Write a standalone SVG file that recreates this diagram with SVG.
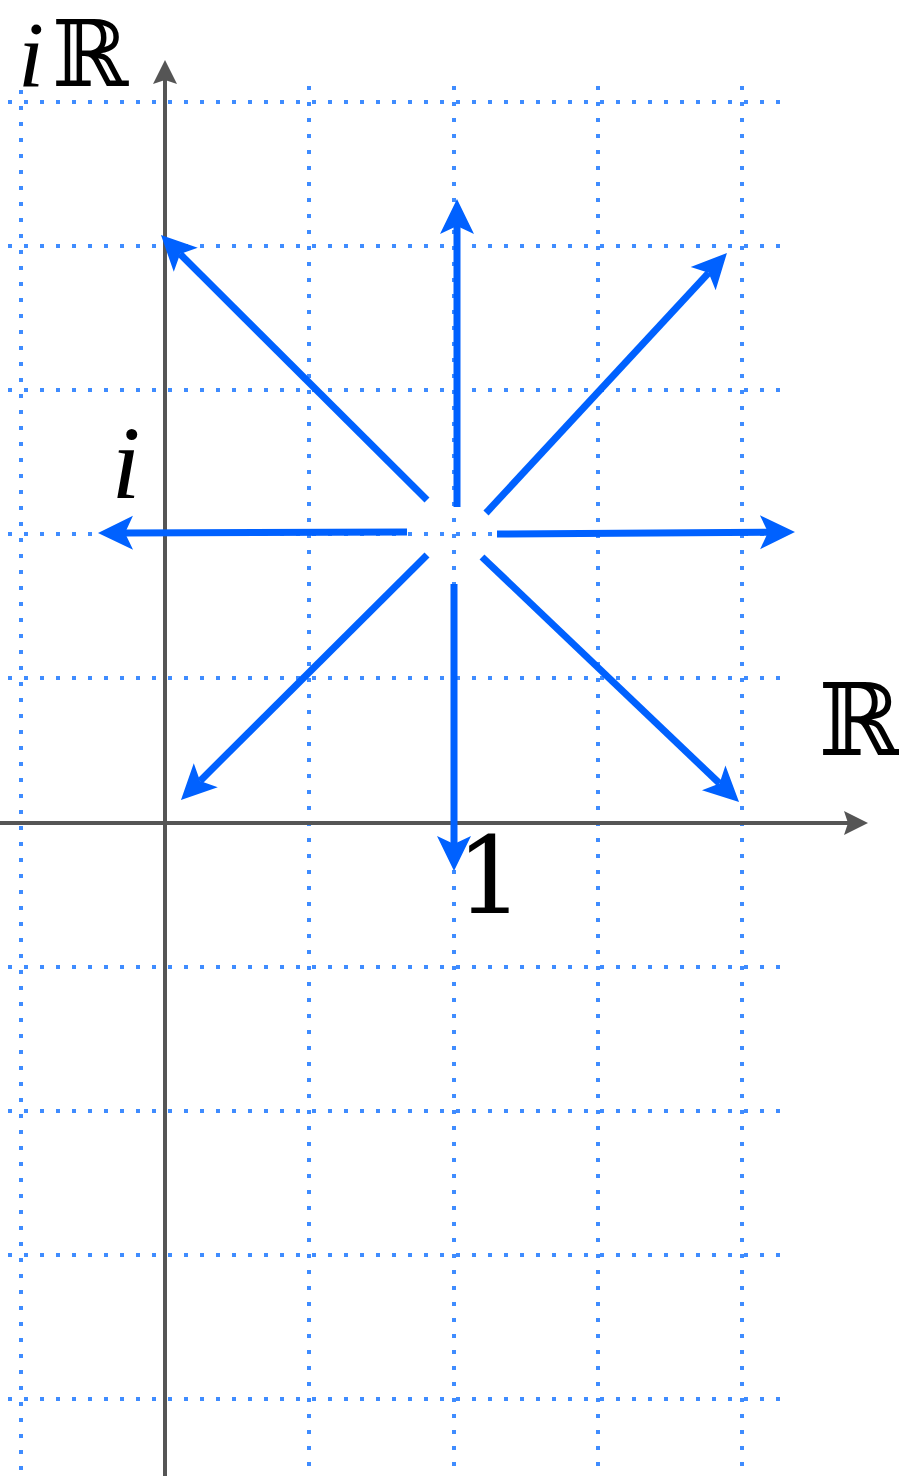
<svg xmlns="http://www.w3.org/2000/svg" width="899" height="1476" viewBox="0 0 899 1476">
<style>
.grid{stroke:#3f8cff;stroke-width:4;stroke-dasharray:4 12;fill:none}
.axis{stroke:#555555;stroke-width:4;fill:none}
.vec{stroke:#0061ff;stroke-width:7;fill:none}
.lbl{font-family:"DejaVu Serif","Liberation Serif",serif;fill:#000}
.it{font-family:"Liberation Serif","DejaVu Serif",serif;font-style:italic;fill:#000}
</style>
<defs>
<marker id="ah" markerUnits="userSpaceOnUse" markerWidth="80" markerHeight="80" refX="0" refY="0" orient="auto" overflow="visible" viewBox="-40 -40 80 80">
<path d="M27,0 L-8,-17 L0,0 L-8,17 Z" fill="#0061ff"/>
</marker>
<marker id="ax" markerUnits="userSpaceOnUse" markerWidth="60" markerHeight="60" refX="0" refY="0" orient="auto" overflow="visible" viewBox="-30 -30 60 60">
<path d="M20,0 L-4,-12 L0,0 L-4,12 Z" fill="#555555"/>
</marker>
</defs>
<g id="grid">
<line class="grid" x1="21" y1="90" x2="21" y2="1472"/>
<line class="grid" x1="309" y1="86" x2="309" y2="1472"/>
<line class="grid" x1="454" y1="86" x2="454" y2="1472"/>
<line class="grid" x1="598" y1="86" x2="598" y2="1472"/>
<line class="grid" x1="742" y1="86" x2="742" y2="1472"/>
<line class="grid" x1="8" y1="102" x2="782" y2="102"/>
<line class="grid" x1="8" y1="246" x2="782" y2="246"/>
<line class="grid" x1="8" y1="390" x2="782" y2="390"/>
<line class="grid" x1="8" y1="534" x2="782" y2="534"/>
<line class="grid" x1="8" y1="678" x2="782" y2="678"/>
<line class="grid" x1="8" y1="967" x2="782" y2="967"/>
<line class="grid" x1="8" y1="1111" x2="782" y2="1111"/>
<line class="grid" x1="8" y1="1255" x2="782" y2="1255"/>
<line class="grid" x1="8" y1="1399" x2="782" y2="1399"/>
</g>
<g id="axes">
<line class="axis" x1="0" y1="823" x2="848" y2="823" marker-end="url(#ax)"/>
<line class="axis" x1="165" y1="1476" x2="165" y2="80" marker-end="url(#ax)"/>
</g>
<g id="connectors">
<line class="vec" x1="457" y1="507" x2="457" y2="226" marker-end="url(#ah)"/>
<line class="vec" x1="486" y1="513" x2="708.6" y2="272.8" marker-end="url(#ah)"/>
<line class="vec" x1="497" y1="534" x2="768" y2="532.2" marker-end="url(#ah)"/>
<line class="vec" x1="482" y1="557" x2="719.5" y2="783.4" marker-end="url(#ah)"/>
<line class="vec" x1="454" y1="584" x2="454" y2="844" marker-end="url(#ah)"/>
<line class="vec" x1="427" y1="555" x2="200.1" y2="780.9" marker-end="url(#ah)"/>
<line class="vec" x1="407" y1="532" x2="125" y2="532.9" marker-end="url(#ah)"/>
<line class="vec" x1="427" y1="500" x2="180.1" y2="254.1" marker-end="url(#ah)"/>
</g>
<g id="label-iR">
<text class="it" x="31" y="86" font-size="94" text-anchor="middle">i</text>
<text class="lbl" x="90" y="86" font-size="92" text-anchor="middle">ℝ</text>
</g>
<g id="label-R">
<text class="lbl" x="860" y="755" font-size="100" text-anchor="middle">ℝ</text>
</g>
<g id="label-i">
<text class="it" x="126" y="498" font-size="104" text-anchor="middle">i</text>
</g>
<g id="label-1">
<text class="lbl" x="490" y="913" font-size="106" text-anchor="middle" font-family="Liberation Serif">1</text>
</g>
</svg>
